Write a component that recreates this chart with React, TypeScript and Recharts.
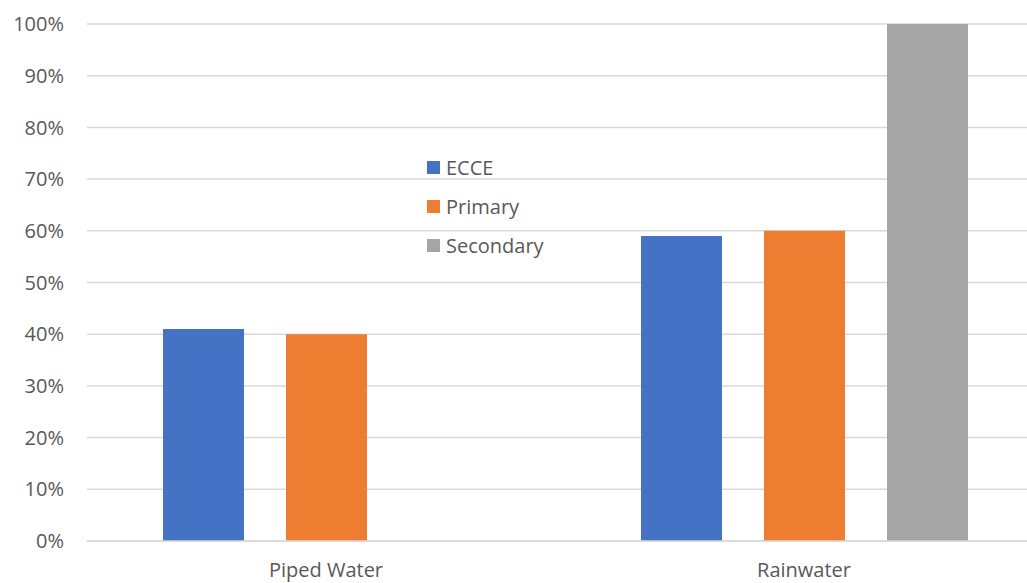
import { BarChart, Bar, XAxis, YAxis, CartesianGrid } from "recharts";

const CATEGORIES = ["Piped Water", "Rainwater"];
const ECCE = [41, 59];
const PRIMARY = [40, 60];
const SECONDARY = [0, 100];
const Y_TICKS = [0, 10, 20, 30, 40, 50, 60, 70, 80, 90, 100];

const SERIES = [
  { key: "ECCE", color: "#4472C4" },
  { key: "Primary", color: "#ED7D31" },
  { key: "Secondary", color: "#A5A5A5" },
];

const FONT = "'Open Sans', sans-serif";
const TEXT = "#595959";

const data = CATEGORIES.map((name, i) => ({
  name,
  ECCE: ECCE[i],
  Primary: PRIMARY[i],
  Secondary: SECONDARY[i],
}));

// legend sits inside the plot area, between the two groups
function LegendBox() {
  return (
    <div
      style={{
        position: "absolute",
        left: 427,
        top: 148,
        fontFamily: FONT,
        fontSize: 20,
        color: TEXT,
      }}
    >
      {SERIES.map((s) => (
        <div
          key={s.key}
          style={{ display: "flex", alignItems: "center", height: 39 }}
        >
          <span
            style={{
              width: 13,
              height: 13,
              background: s.color,
              display: "inline-block",
              marginRight: 6,
            }}
          />
          <span>{s.key}</span>
        </div>
      ))}
    </div>
  );
}

export default function App() {
  return (
    <div
      style={{
        position: "absolute",
        left: 0,
        top: 0,
        width: 1027,
        height: 583,
        overflow: "hidden",
        background: "#fff",
      }}
    >
      <div
        style={{
          position: "absolute",
          left: 0,
          width: 1102,
          top: -24,
          textAlign: "center",
          fontFamily: FONT,
          fontSize: 21,
          color: TEXT,
          lineHeight: "28px",
        }}
      >
        2022
      </div>
      <BarChart
        width={1065}
        height={583}
        data={data}
        barSize={81}
        barGap={42}
        margin={{ top: 24, right: 22, left: 0, bottom: 0 }}
      >
        <CartesianGrid vertical={false} stroke="#D9D9D9" strokeWidth={1.5} />
        <XAxis
          dataKey="name"
          height={42}
          tickLine={false}
          axisLine={{ stroke: "#D9D9D9", strokeWidth: 1.5 }}
          tickMargin={16}
          tick={{ fill: TEXT, fontSize: 20, fontFamily: FONT }}
        />
        <YAxis
          width={87}
          domain={[0, 100]}
          ticks={Y_TICKS}
          interval={0}
          tickFormatter={(v) => `${v}%`}
          tickLine={false}
          axisLine={false}
          tickMargin={17}
          tick={{ fill: TEXT, fontSize: 20, fontFamily: FONT }}
        />
        {SERIES.map((s) => (
          <Bar
            key={s.key}
            dataKey={s.key}
            fill={s.color}
            isAnimationActive={false}
          />
        ))}
      </BarChart>
      <LegendBox />
    </div>
  );
}
